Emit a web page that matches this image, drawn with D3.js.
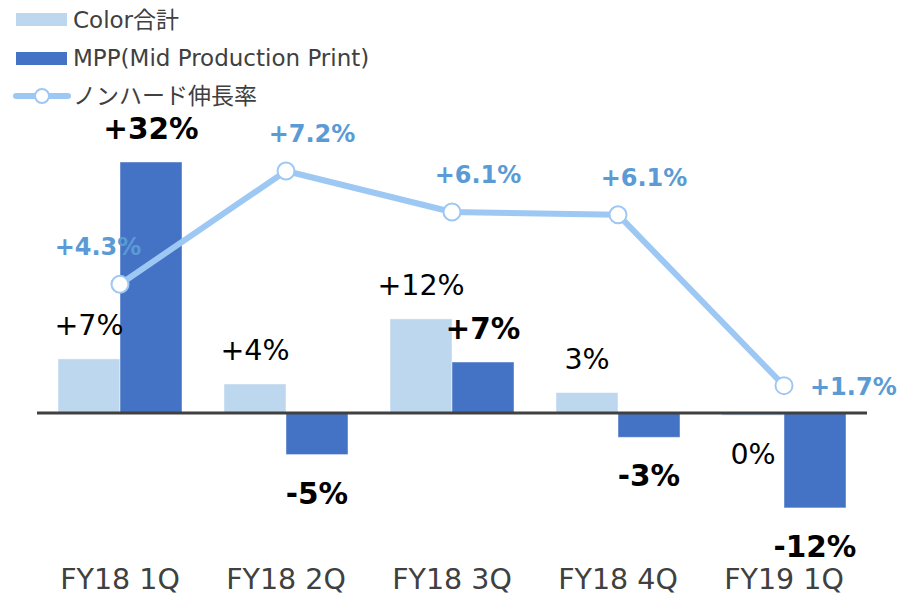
<!DOCTYPE html>
<html>
<head>
<meta charset="utf-8">
<script src="https://cdn.jsdelivr.net/npm/d3@7"></script>
<style>
  body { margin: 0; background: #fff; }
  text { font-family: "DejaVu Sans", "Noto Sans CJK JP", sans-serif; }
</style>
</head>
<body>
<div id="viz"></div>
<script>
var width = 897;
var height = 595;

var categories = ['FY18 1Q', 'FY18 2Q', 'FY18 3Q', 'FY18 4Q', 'FY19 1Q'];
// bar heights (labels are rounded)
var colorTotal = [6.9, 3.7, 12.0, 2.6, -0.3];
var mppValues = [32, -5.3, 6.5, -3.1, -12.1];
var nonHardGrowth = [4.3, 7.2, 6.15, 6.08, 1.7];

var colorLabels = ['+7%', '+4%', '+12%', '3%', '0%'];
var mppLabels = ['+32%', '-5%', '+7%', '-3%', '-12%'];
var growthLabels = ['+4.3%', '+7.2%', '+6.1%', '+6.1%', '+1.7%'];

var legendNames = ['Color合計', 'MPP(Mid Production Print)', 'ノンハード伸長率'];

var colors = { light: '#bdd7ee', dark: '#4472c4', line: '#9dc8f3', lineText: '#5b9bd5' };

var svg = d3.select('#viz')
  .append('svg')
  .attr('width', width)
  .attr('height', height)
  .style('background', '#fff');

var x0 = d3.scaleBand().domain(categories).range([37, 867]).padding(0);
var x1 = d3.scaleBand().domain(['color', 'mpp']).range([21, 145]).padding(0);

var yBar = d3.scaleLinear().domain([0, 32]).range([413, 162]);
var yLine = d3.scaleLinear().domain([0, 7.2]).range([452, 171]);

// bars
var rows = categories.map(function(c, i) {
  return { cat: c, vals: [
    { key: 'color', v: colorTotal[i], label: colorLabels[i], fill: colors.light, bold: false },
    { key: 'mpp', v: mppValues[i], label: mppLabels[i], fill: colors.dark, bold: true }
  ] };
});

var groups = svg.selectAll('g.cat').data(rows)
  .enter().append('g')
  .attr('class', 'cat')
  .attr('transform', function(d) { return 'translate(' + x0(d.cat) + ',0)'; });

groups.selectAll('rect').data(function(d) { return d.vals; })
  .enter().append('rect')
  .attr('x', function(d) { return x1(d.key); })
  .attr('width', x1.bandwidth())
  .attr('y', function(d) { return d.v > 0 ? yBar(d.v) : yBar(0); })
  .attr('height', function(d) { return Math.max(Math.abs(yBar(d.v) - yBar(0)), 1); })
  .attr('fill', function(d) { return d.fill; })
  .attr('stroke', 'rgba(255,255,255,0.45)')
  .attr('stroke-width', 1);

groups.selectAll('text.val').data(function(d) { return d.vals; })
  .enter().append('text')
  .attr('class', 'val')
  .attr('x', function(d) { return x1(d.key) + x1.bandwidth() / 2; })
  .attr('y', function(d) { return d.v > 0 ? yBar(d.v) - 33 : yBar(d.v) + 39; })
  .attr('text-anchor', 'middle')
  .attr('dominant-baseline', 'central')
  .style('font-size', function(d) { return d.bold ? '29.5px' : '28.5px'; })
  .style('font-weight', function(d) { return d.bold ? 'bold' : 'normal'; })
  .attr('fill', '#000')
  .text(function(d) { return d.label; });

// zero line
svg.append('line')
  .attr('x1', 37).attr('x2', 867)
  .attr('y1', yBar(0)).attr('y2', yBar(0))
  .attr('stroke', '#404040')
  .attr('stroke-width', 3);

// category labels
var xAxis = d3.axisBottom(x0).tickSize(0).tickPadding(0);
var axisG = svg.append('g')
  .attr('transform', 'translate(0,568)')
  .call(xAxis);
axisG.select('.domain').remove();
axisG.selectAll('text')
  .attr('dy', '0.72em')
  .style('font-size', '28.5px')
  .style('font-family', '"DejaVu Sans", sans-serif')
  .attr('fill', '#404040');

// growth line
var line = d3.line()
  .x(function(d, i) { return x0(categories[i]) + x0.bandwidth() / 2; })
  .y(function(d) { return yLine(d); });

svg.append('path')
  .datum(nonHardGrowth)
  .attr('d', line)
  .attr('fill', 'none')
  .attr('stroke', colors.line)
  .attr('stroke-width', 6)
  .attr('stroke-linejoin', 'round');

svg.selectAll('.dot').data(nonHardGrowth)
  .enter().append('circle')
  .attr('class', 'dot')
  .attr('cx', function(d, i) { return x0(categories[i]) + x0.bandwidth() / 2; })
  .attr('cy', function(d) { return yLine(d); })
  .attr('r', 8.5)
  .attr('fill', '#fff')
  .attr('stroke', colors.line)
  .attr('stroke-width', 2);

var last = nonHardGrowth.length - 1;
svg.selectAll('.glabel').data(nonHardGrowth)
  .enter().append('text')
  .attr('class', 'glabel')
  .attr('x', function(d, i) {
    var cx = x0(categories[i]) + x0.bandwidth() / 2;
    if (i === last) return cx + 26;
    return i === 0 ? cx - 22 : cx + 26;
  })
  .attr('y', function(d, i) { return i === last ? yLine(d) + 1 : yLine(d) - 37; })
  .attr('text-anchor', function(d, i) { return i === last ? 'start' : 'middle'; })
  .attr('dominant-baseline', 'central')
  .style('font-size', '24px')
  .style('font-weight', 'bold')
  .attr('fill', colors.lineText)
  .text(function(d, i) { return growthLabels[i]; });

// legend
var legend = svg.append('g').attr('class', 'legend');
legend.append('rect').attr('x', 16).attr('y', 13).attr('width', 51).attr('height', 13).attr('fill', colors.light);
legend.append('rect').attr('x', 16).attr('y', 52).attr('width', 51).attr('height', 13).attr('fill', colors.dark);
legend.append('line').attr('x1', 16).attr('x2', 68).attr('y1', 96).attr('y2', 96)
  .attr('stroke', colors.line).attr('stroke-width', 6).attr('stroke-linecap', 'round');
legend.append('circle').attr('cx', 42).attr('cy', 96).attr('r', 7)
  .attr('fill', '#fff').attr('stroke', colors.line).attr('stroke-width', 2);

legend.selectAll('text').data(legendNames)
  .enter().append('text')
  .attr('x', 73)
  .attr('y', function(d, i) { return 20 + i * 38; })
  .attr('dominant-baseline', 'central')
  .style('font-size', '23px')
  .attr('fill', '#404040')
  .text(function(d) { return d; });
</script>
</body>
</html>
